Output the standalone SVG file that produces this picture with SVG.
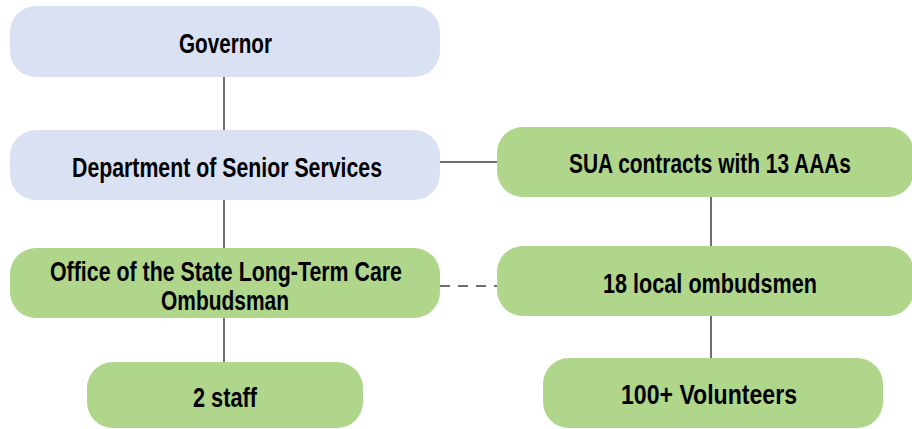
<svg xmlns="http://www.w3.org/2000/svg" width="912" height="429" viewBox="0 0 912 429">
<style>
.blue{fill:#d9e1f2}
.green{fill:#afd68b}
.t{font-family:"Liberation Sans","Arial",sans-serif;font-weight:bold;font-size:27px;fill:#000;text-anchor:middle}
.c{stroke:#6e6e6e;stroke-width:2;fill:none}
.d{stroke-dasharray:10,8}
</style>
<rect width="912" height="429" fill="#fff"/>
<g id="connectors">
<line class="c" x1="224" y1="77" x2="224" y2="130"/>
<line class="c" x1="224" y1="200" x2="224" y2="248"/>
<line class="c" x1="224" y1="318" x2="224" y2="362"/>
<line class="c" x1="440" y1="162" x2="497" y2="162"/>
<line class="c d" x1="440" y1="286" x2="497" y2="286"/>
<line class="c" x1="711" y1="197" x2="711" y2="246"/>
<line class="c" x1="711" y1="316" x2="711" y2="358"/>
</g>
<g id="governor">
<rect class="blue" x="10" y="6" width="430" height="71" rx="26"/>
<text class="t" x="225.5" y="53" textLength="93" lengthAdjust="spacingAndGlyphs">Governor</text>
</g>
<g id="dss">
<rect class="blue" x="10" y="130" width="430" height="70" rx="26"/>
<text class="t" x="227" y="177" textLength="310" lengthAdjust="spacingAndGlyphs">Department of Senior Services</text>
</g>
<g id="office">
<rect class="green" x="10" y="248" width="430" height="70" rx="26"/>
<text class="t" x="226" y="281" textLength="352" lengthAdjust="spacingAndGlyphs">Office of the State Long-Term Care</text>
<text class="t" x="225" y="310" textLength="128" lengthAdjust="spacingAndGlyphs">Ombudsman</text>
</g>
<g id="staff">
<rect class="green" x="87" y="362" width="276" height="66" rx="26"/>
<text class="t" x="225" y="407" textLength="64" lengthAdjust="spacingAndGlyphs">2 staff</text>
</g>
<g id="sua">
<rect class="green" x="497" y="127" width="417" height="70" rx="26"/>
<text class="t" x="710" y="173" textLength="282" lengthAdjust="spacingAndGlyphs">SUA contracts with 13 AAAs</text>
</g>
<g id="local">
<rect class="green" x="497" y="246" width="417" height="70" rx="26"/>
<text class="t" x="710" y="293" textLength="214" lengthAdjust="spacingAndGlyphs">18 local ombudsmen</text>
</g>
<g id="volunteers">
<rect class="green" x="543" y="358" width="340" height="70" rx="26"/>
<text class="t" x="709" y="404" textLength="176" lengthAdjust="spacingAndGlyphs">100+ Volunteers</text>
</g>
</svg>
